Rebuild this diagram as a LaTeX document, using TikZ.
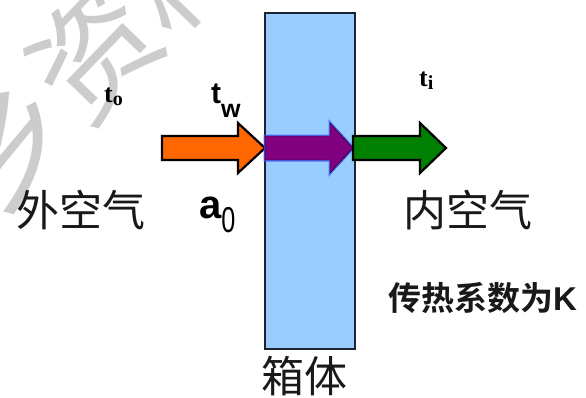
\documentclass[tikz,border=0pt]{standalone}
\usepackage{fontspec}
\setmainfont{Liberation Sans}
\newfontfamily\cjk{Noto Sans CJK SC}
\newfontfamily\cjkb{Noto Sans CJK SC Bold}
\newfontfamily\tnr{Liberation Serif}
\definecolor{boxblue}{RGB}{153,204,255}
\definecolor{boxline}{RGB}{28,36,52}
\definecolor{arrorange}{RGB}{255,102,0}
\definecolor{arrpurple}{RGB}{128,0,128}
\definecolor{arrglow}{RGB}{70,90,255}
\definecolor{arrgreen}{RGB}{0,128,0}
\definecolor{wmark}{RGB}{204,204,204}
\newcommand\myharrow[5]{% x1, x2, xhead, y, style
  \draw[#5] (#1,#4-12) -- (#3,#4-12) -- (#3,#4-25) -- (#2,#4) -- (#3,#4+25) -- (#3,#4+12) -- (#1,#4+12) -- cycle;}
\begin{document}
\begin{tikzpicture}[x=1pt,y=-1pt,
  cjktext/.style={font=\cjk\fontsize{43}{43}\selectfont, inner sep=0pt, text=black!90},
  outline/.style={draw=black, line width=2.2pt, line join=miter}]
\useasboundingbox (0,0) rectangle (586,397);
\fill[white] (0,0) rectangle (586,397);
% watermark
\begin{scope}
\clip (0,0) rectangle (586,397);
\node[rotate=46, text=wmark, font=\cjk\fontsize{124}{124}\selectfont, inner sep=0pt, anchor=west] (wm) at (-36,186) {乡资料};
\end{scope}
% box
\node[draw=boxline, line width=2.2pt, fill=boxblue, minimum width=90pt, minimum height=336pt, inner sep=0pt, anchor=north west] (box) at (264,12) {};
% arrows
\myharrow{162}{265}{238}{148}{outline, fill=arrorange}
\myharrow{265}{353}{330}{148}{draw=arrglow, line width=3pt, opacity=0.8}
\myharrow{265}{353}{330}{148}{fill=arrpurple}
\myharrow{353}{446}{420}{148}{outline, fill=arrgreen}
% labels
\node[cjktext] (outer) at (81,210) {外空气};
\node[cjktext] (inner) at (468,210) {内空气};
\node[cjktext] (xiang) at (304,376) {箱体};
\node[font=\cjkb\fontsize{33}{33}\selectfont, inner sep=0pt, anchor=west, text=black!90] (k) at (388,298) {传热系数为{\rmfamily\bfseries K}};
\node[inner sep=0pt, anchor=base west] (to) at (104,102) {\tnr\bfseries\fontsize{26}{26}\selectfont t\raisebox{-3pt}{\fontsize{20}{20}\selectfont o}};
\node[inner sep=0pt, anchor=base west] (ti) at (419,86) {\tnr\bfseries\fontsize{26}{26}\selectfont t\raisebox{-3pt}{\fontsize{20}{20}\selectfont i}};
\node[inner sep=0pt, anchor=base west] (tw) at (211,103) {\bfseries\fontsize{30}{30}\selectfont t\raisebox{-14pt}{\fontsize{25}{25}\selectfont w}};
\node[inner sep=0pt, anchor=base west] (a0) at (199,218) {\bfseries\fontsize{40}{40}\selectfont a\raisebox{-14pt}{\mdseries\scalebox{0.7}[1]{\fontsize{36}{36}\selectfont 0}}};
\end{tikzpicture}
\end{document}
